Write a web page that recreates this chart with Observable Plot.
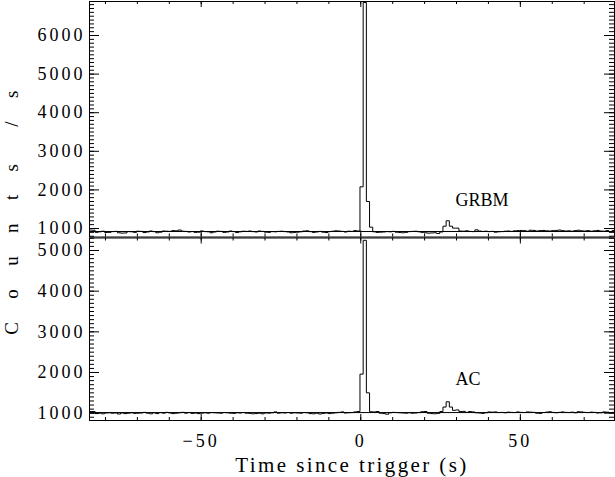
<!DOCTYPE html>
<html><head><meta charset="utf-8">
<script src="https://cdn.jsdelivr.net/npm/d3@7"></script>
<script src="https://cdn.jsdelivr.net/npm/@observablehq/plot@0.6"></script>
<style>
body{margin:0;background:#fff}
#wrap{position:relative;width:615px;height:477px}
#wrap svg{display:block}
g[aria-label="y-axis tick label"] text, g[aria-label="x-axis tick label"] text {letter-spacing:3px}
#ylab{position:absolute;left:12px;top:208px;transform:translate(-50%,-50%) rotate(-90deg);white-space:pre;font-family:"Liberation Serif";font-size:19px;letter-spacing:9.3px;color:#000}
</style></head><body>
<div id="wrap"><div id="ylab">C o u n t s  / s</div></div>
<script>
// bin start times (s); bins are 1 s wide, starting 0.25 s before each value
const binTimes = d3.range(-85, 80);
const xDomain = [-85, 79.5];
const xMajor = [-50, 0, 50];
const xMinor = d3.range(-80, 80, 10);

// GRBM count rates (counts/s)
const grbm = [
  960, 955, 900, 915, 930, 895, 900, 920, 925, 890,
  880, 885, 920, 915, 900, 930, 925, 895, 910, 935,
  920, 890, 905, 935, 930, 925, 945, 940, 960, 930,
  925, 910, 920, 900, 905, 935, 920, 915, 890, 910,
  930, 925, 900, 910, 935, 920, 895, 915, 930, 925,
  935, 920, 910, 935, 925, 905, 900, 920, 915, 925,
  930, 920, 910, 890, 900, 905, 915, 935, 940, 920,
  900, 910, 925, 905, 895, 920, 930, 940, 935, 925,
  910, 930, 925, 945, 935,
  2080, 6855, 1700, 1035,
  915, 900, 905, 910, 920, 915, 925, 905, 895, 890,
  900, 920, 925, 930, 915, 900, 890, 880, 885, 890,
  870, 910,
  1060, 1200, 1060, 1010, 1010,
  935, 930, 940, 925, 920, 965, 935, 925, 930, 920,
  925, 905, 915, 920, 930, 935, 925, 940, 945, 950,
  945, 930, 955, 950, 935, 945, 950, 940, 935, 945,
  950, 960, 945, 935, 940, 930, 945, 955, 940, 935,
  945, 930, 940, 950, 935, 930, 945, 920, 950
];
// AC count rates (counts/s)
const ac = [
  1040, 1040, 990, 1000, 985, 1005, 1010, 1000, 1005, 980,
  1005, 990, 1000, 1010, 995, 1000, 1005, 1020, 1000, 985,
  1010, 990, 1015, 1000, 1020, 1005, 990, 1000, 1010, 1020,
  1000, 1015, 995, 1005, 990, 1000, 1010, 1000, 1015, 1010,
  1005, 1000, 1015, 1010, 1000, 995, 1010, 1005, 1015, 1000,
  995, 985, 990, 1000, 985, 1005, 1000, 1010, 1030, 1000,
  1010, 1005, 1015, 1000, 1010, 1005, 1000, 1015, 1010, 990,
  985, 1000, 980, 995, 1005, 990, 1000, 1010, 1020, 1030,
  1005, 1010, 1015, 1030, 1040,
  1960, 5250, 1500, 1035,
  1030, 1040, 1000, 990, 975, 1010, 1020, 1015, 1010, 1005,
  1000, 1010, 1000, 1005, 1015, 1035, 1040, 1000, 990, 985,
  995, 1040,
  1150, 1280, 1150, 1070, 1080,
  1040, 1045, 1020, 1040, 1030, 1010, 1005, 995, 1010, 1030,
  1025, 1030, 1015, 1020, 1010, 1025, 1020, 1015, 1030, 1020,
  1015, 1030, 1025, 1020, 1000, 995, 1015, 1025, 1035, 1020,
  1010, 1020, 1030, 1020, 1015, 1025, 1010, 1035, 1030, 1020,
  1015, 1025, 1020, 1005, 1010, 1030, 1025, 1015, 1020
];
const grbmBackground = 922;
const acBackground = 1015;
const grbmTicks = [1000, 2000, 3000, 4000, 5000, 6000];
const acTicks = [1000, 2000, 3000, 4000, 5000];
const xTitle = "Time since trigger (s)";

const fmtX = d => d < 0 ? "\u2212" + Math.abs(d) : String(d);
const W = 615, ML = 89, MR = 1;
const PW = W - ML - MR;

function panel({values, base, yDomain, yMajor, height, marginTop, marginBottom, label, labelY, bottomAxis}) {
  const PH = height - marginTop - marginBottom;
  const pts = binTimes.map((t, i) => ({x: t - 0.25, y: values[i]}));
  pts.push({x: binTimes[binTimes.length - 1] + 0.75, y: values[values.length - 1]});
  const yMinor = d3.range(Math.ceil(yDomain[0] / 100) * 100, yDomain[1], 100);
  // tick lengths converted from pixels to data units
  const sx = (xDomain[1] - xDomain[0]) / PW;
  const sy = (yDomain[1] - yDomain[0]) / PH;
  const tk = {stroke: "black", strokeWidth: 1};
  const lx = xDomain[0], rx = xDomain[1], by = yDomain[0], ty = yDomain[1];
  const marks = [
    Plot.ruleY([base], {stroke: "black", strokeWidth: 1}),
    Plot.line(pts, {x: "x", y: "y", curve: "step-after", stroke: "black", strokeWidth: 1, clip: true}),
    Plot.frame({stroke: "black", strokeWidth: 1}),
    // inward ticks on left / right
    Plot.ruleY(yMajor, {y: d => d, x1: lx, x2: lx + 10 * sx, ...tk}),
    Plot.ruleY(yMinor, {y: d => d, x1: lx, x2: lx + 5 * sx, ...tk}),
    Plot.ruleY(yMajor, {y: d => d, x1: rx, x2: rx - 10 * sx, ...tk}),
    Plot.ruleY(yMinor, {y: d => d, x1: rx, x2: rx - 5 * sx, ...tk}),
    // inward ticks on top / bottom
    Plot.ruleX(xMajor, {x: d => d, y1: ty, y2: ty - 6 * sy, ...tk}),
    Plot.ruleX(xMinor, {x: d => d, y1: ty, y2: ty - 3 * sy, ...tk}),
    Plot.ruleX(xMajor, {x: d => d, y1: by, y2: by + 6 * sy, ...tk}),
    Plot.ruleX(xMinor, {x: d => d, y1: by, y2: by + 3 * sy, ...tk}),
    Plot.axisY({anchor: "left", ticks: yMajor, tickSize: 0, tickPadding: 4, fontSize: 18, tickFormat: d => String(d), label: null}),
    Plot.text([label], {x: 29.7, y: labelY, text: d => d, textAnchor: "start", fontSize: 18})
  ];
  if (bottomAxis) {
    marks.push(Plot.axisX({anchor: "bottom", ticks: xMajor, tickSize: 0, tickPadding: 14, fontSize: 18, tickFormat: fmtX, label: null}));
    marks.push(Plot.text([xTitle], {frameAnchor: "bottom", dy: 45, lineAnchor: "middle", text: d => d, fontSize: 21}));
  } else {
    marks.push(Plot.axisX({anchor: "bottom", ticks: [], tickSize: 0, label: null}));
  }
  return Plot.plot({
    width: W, height,
    marginLeft: ML, marginRight: MR, marginTop, marginBottom,
    x: {domain: xDomain},
    y: {domain: yDomain},
    style: {fontFamily: "Liberation Serif", fontSize: "18px", color: "black", background: "white", overflow: "visible"},
    marks
  });
}

const wrap = document.getElementById("wrap");
const topPanel = panel({values: grbm, base: grbmBackground, yDomain: [780, 6881], yMajor: grbmTicks,
  height: 237, marginTop: 1, marginBottom: 0.5, label: "GRBM", labelY: 1725, bottomAxis: false});
const botPanel = panel({values: ac, base: acBackground, yDomain: [820, 5307], yMajor: acTicks,
  height: 240, marginTop: 0.5, marginBottom: 57, label: "AC", labelY: 1845, bottomAxis: true});
wrap.appendChild(topPanel);
wrap.appendChild(botPanel);
d3.select(botPanel).selectAll("text").filter(function(){ return this.textContent === xTitle; }).style("letter-spacing", "2.4px");
</script>
</body></html>
